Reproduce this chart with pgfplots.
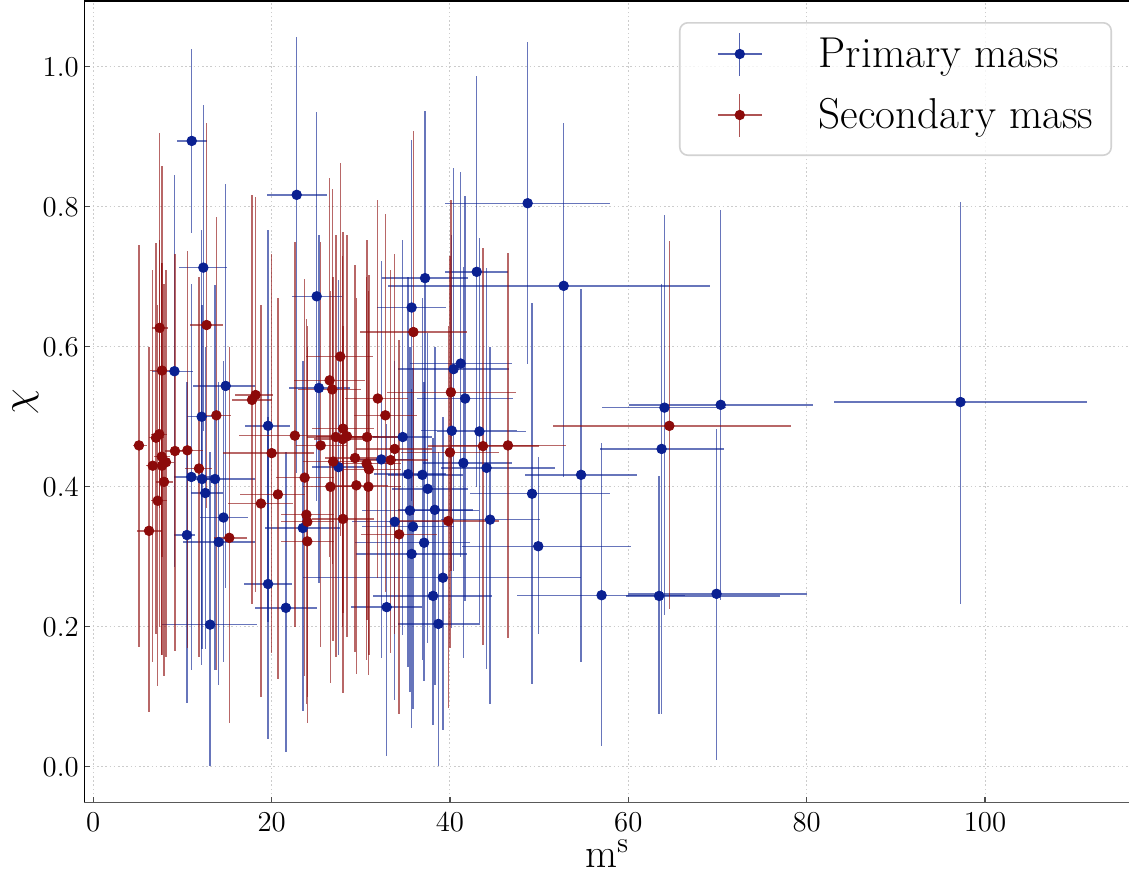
\documentclass[border=0pt]{standalone}
\usepackage{pgfplots}
\usepackage{pgfplotstable}
\pgfplotsset{compat=1.18}
\definecolor{bm}{RGB}{10,32,145}
\definecolor{rm}{RGB}{140,10,10}

\pgfplotstableread{
x y xl xh yl yh
11.04 0.894 9.35 12.72 0.763 1.025
12.34 0.713 9.64 15.03 0.48 0.946
22.81 0.817 19.45 26.18 0.42 1.043
25.05 0.672 22.25 27.86 0.38 0.935
37.2 0.698 32.34 42.05 0.42 0.937
43.0 0.707 39.44 46.54 0.40 0.987
48.71 0.805 39.44 57.95 0.576 1.035
52.75 0.687 33.0 69.16 0.414 0.92
64.05 0.513 57.1 71.0 0.217 0.788
63.73 0.454 56.86 70.68 0.075 0.69
70.36 0.517 60.08 80.7 0.238 0.796
97.25 0.521 83.1 111.4 0.233 0.807
54.7 0.417 48.4 61.0 0.15 0.683
57.0 0.245 47.5 66.4 0.03 0.462
63.45 0.244 59.7 77.0 0.075 0.415
69.89 0.247 60.0 80.0 0.01 0.483
35.7 0.656 31.8 39.6 0.38 0.896
25.3 0.541 21.9 28.8 0.262 0.76
41.2 0.576 35.5 47.0 0.30 0.85
40.4 0.568 34.2 46.65 0.28 0.855
41.7 0.526 36.3 47.1 0.237 0.815
34.7 0.471 31.4 37.95 0.188 0.753
40.2 0.480 36.8 47.5 0.198 0.76
43.3 0.479 38.5 48.5 0.202 0.755
32.3 0.439 28.8 36.0 0.155 0.722
27.5 0.428 24.5 31.0 0.159 0.696
41.5 0.434 37.0 47.0 0.156 0.714
44.1 0.427 39.0 51.8 0.14 0.712
35.3 0.418 31.5 39.5 0.143 0.70
36.9 0.417 33.0 41.5 0.152 0.67
37.5 0.397 33.5 42.0 0.177 0.62
49.2 0.390 42.2 57.9 0.118 0.662
49.9 0.315 41.4 60.3 0.19 0.443
35.5 0.366 30.1 43.2 0.107 0.60
38.3 0.367 34.2 42.6 0.117 0.60
44.5 0.353 39.0 50.1 0.09 0.60
33.8 0.350 29.0 38.8 0.095 0.58
35.85 0.343 30.1 40.4 0.082 0.57
37.1 0.320 29.35 42.2 0.123 0.55
35.7 0.304 29.5 41.9 0.056 0.54
39.2 0.270 23.5 54.7 0.052 0.50
38.1 0.244 31.4 44.7 0.06 0.47
23.5 0.341 19.3 27.7 0.079 0.58
9.1 0.565 6.55 11.2 0.285 0.845
14.85 0.544 11.2 18.1 0.255 0.833
12.15 0.500 10.55 13.8 0.145 0.767
19.6 0.487 17.0 22.1 0.207 0.767
11.0 0.414 9.0 13.5 0.138 0.69
12.2 0.411 10.5 14.0 0.168 0.66
13.65 0.411 11.8 18.1 0.138 0.688
12.56 0.391 11.0 14.5 0.168 0.60
14.6 0.356 12.0 17.4 0.149 0.58
10.5 0.331 9.0 11.4 0.091 0.55
14.06 0.321 10.1 18.1 0.117 0.55
19.6 0.261 16.9 22.3 0.04 0.50
21.6 0.227 18.1 25.1 0.021 0.45
13.1 0.203 7.67 18.4 0.001 0.45
32.9 0.228 28.9 36.9 0.015 0.49
38.7 0.204 34.2 43.3 0.0015 0.45
}\primtab

\pgfplotstableread{
x y xl xh yl yh
64.6 0.487 51.5 78.2 0.225 0.751
35.9 0.621 29.9 41.9 0.36 0.908
27.7 0.586 23.9 31.4 0.33 0.863
26.5 0.552 22.5 30.5 0.30 0.841
26.8 0.539 23.0 30.0 0.29 0.826
31.9 0.526 28.2 35.3 0.27 0.809
32.75 0.502 29.2 36.3 0.25 0.789
40.1 0.535 32.9 47.4 0.28 0.809
28.0 0.483 24.5 31.5 0.22 0.764
27.2 0.471 24.0 30.5 0.157 0.76
28.45 0.472 25.0 32.0 0.186 0.76
27.97 0.468 24.8 31.2 0.20 0.73
30.7 0.471 27.0 34.5 0.21 0.752
25.5 0.459 22.7 28.5 0.171 0.749
33.8 0.454 29.5 38.0 0.19 0.732
43.7 0.458 37.5 50.0 0.174 0.741
46.5 0.459 40.0 53.0 0.184 0.734
40.0 0.449 34.5 45.5 0.17 0.729
29.35 0.441 26.0 33.0 0.164 0.717
26.9 0.436 23.5 30.5 0.18 0.70
33.35 0.438 29.5 37.5 0.162 0.71
30.65 0.433 27.0 34.5 0.152 0.70
30.9 0.425 27.5 34.5 0.16 0.702
23.7 0.413 20.5 27.0 0.129 0.697
26.6 0.400 23.5 30.0 0.12 0.68
29.5 0.402 26.0 33.0 0.133 0.67
30.85 0.400 27.0 34.5 0.131 0.68
23.9 0.360 21.0 27.0 0.09 0.64
24.0 0.350 21.0 27.0 0.10 0.63
28.0 0.354 24.5 31.5 0.106 0.63
39.8 0.351 34.0 45.5 0.084 0.63
34.3 0.332 30.0 38.5 0.075 0.61
24.0 0.322 21.0 27.0 0.062 0.60
7.44 0.627 6.55 8.4 0.37 0.906
12.7 0.631 10.85 14.6 0.37 0.92
7.7 0.566 6.4 9.0 0.30 0.858
13.8 0.502 12.2 15.4 0.138 0.785
18.2 0.531 15.9 20.2 0.249 0.814
17.8 0.524 15.6 20.0 0.232 0.817
7.4 0.475 6.5 8.3 0.20 0.752
7.03 0.470 6.2 7.9 0.19 0.748
5.12 0.459 4.5 6.0 0.171 0.745
9.16 0.451 8.0 10.4 0.166 0.733
10.55 0.452 9.3 12.3 0.17 0.737
7.67 0.443 6.8 8.6 0.16 0.72
8.15 0.435 7.2 9.1 0.157 0.709
6.66 0.430 5.9 7.5 0.149 0.709
7.7 0.430 6.8 8.6 0.16 0.72
11.85 0.426 10.3 13.3 0.157 0.70
7.93 0.407 7.0 8.9 0.129 0.69
7.22 0.380 6.5 8.3 0.115 0.66
6.25 0.337 4.87 7.67 0.078 0.60
15.25 0.327 13.5 17.2 0.063 0.60
20.0 0.448 14.6 24.7 0.163 0.733
22.6 0.473 16.3 28.0 0.2 0.749
20.7 0.389 16.5 23.7 0.125 0.67
18.8 0.376 15.1 22.4 0.10 0.66
}\sectab

\begin{document}
\begin{tikzpicture}
\begin{axis}[
  name=ax,
  at={(42.15pt,38.65pt)}, anchor=south west,
  scale only axis, width=522.85pt, height=400.85pt,
  xmin=-1.009, xmax=116.26, ymin=-0.0514, ymax=1.0939,
  axis line style={draw=none},
  tick pos=left, tick align=inside,
  major tick length=3pt,
  tick style={black!70, line width=0.6pt},
  xtick={0,20,40,60,80,100},
  ytick={0,0.2,0.4,0.6,0.8,1.0},
  tick label style={font=\fontsize{14.5}{17}\selectfont},
  yticklabel style={/pgf/number format/fixed, /pgf/number format/fixed zerofill, /pgf/number format/precision=1, inner xsep=2.6pt},
  xticklabel style={inner ysep=2.5pt, yshift=-2.2pt},
  grid=major,
  grid style={gray!40, line width=0.5pt, dash pattern=on 0.8pt off 1.3pt},
  xlabel={$\mathrm{m}^{\mathrm{s}}$},
  ylabel={$\chi$},
  xlabel style={at={(axis description cs:0.5,0)}, anchor=base, yshift=-32.2pt, inner sep=0.2pt, font=\fontsize{20}{24}\selectfont},
  ylabel style={at={(axis description cs:-0.0562,0.5)}, anchor=center, inner sep=0.5pt, font=\fontsize{20}{24}\selectfont},
  legend cell align=left,
  legend style={at={(rel axis cs:0.9828,0.9738)}, anchor=north east,
    draw=gray!35, line width=0.8pt, rounded corners=4pt,
    fill=white, fill opacity=0.8, text opacity=1,
    inner xsep=4.5pt, inner ysep=2.6pt, row sep=0pt,
    font=\fontsize{21.6}{25}\selectfont,
    nodes={inner xsep=4.5pt, inner ysep=0pt}},
]
\addplot[only marks, mark=*, mark size=2.4pt, color=bm, mark options={draw=bm, fill=bm},
  legend image code/.code={
    \path[draw=none, fill=none] (0pt,-17.5pt) rectangle (60.5pt,13pt);
    \draw[bm, draw opacity=0.7, line width=0.7pt, rounded corners=0pt] (14.5pt,0pt) -- (36.5pt,0pt) (25.5pt,-10.75pt) -- (25.5pt,10.75pt);
    \fill[bm, fill opacity=1, draw=none] (25.5pt,0pt) circle (2.6pt);
  },
  error bars/.cd, x dir=both, x explicit, y dir=both, y explicit,
  error mark=none, error bar style={line width=0.7pt, draw opacity=0.62, color=bm}]
  table[x=x, y=y,
    x error plus expr=\thisrow{xh}-\thisrow{x}, x error minus expr=\thisrow{x}-\thisrow{xl},
    y error plus expr=\thisrow{yh}-\thisrow{y}, y error minus expr=\thisrow{y}-\thisrow{yl}] {\primtab};
\addlegendentry{Primary mass}
\addplot[only marks, mark=*, mark size=2.4pt, color=rm, mark options={draw=rm, fill=rm},
  legend image code/.code={
    \path[draw=none, fill=none] (0pt,-17.5pt) rectangle (60.5pt,13pt);
    \draw[rm, draw opacity=0.7, line width=0.7pt, rounded corners=0pt] (14.5pt,0pt) -- (36.5pt,0pt) (25.5pt,-10.75pt) -- (25.5pt,10.75pt);
    \fill[rm, fill opacity=1, draw=none] (25.5pt,0pt) circle (2.6pt);
  },
  error bars/.cd, x dir=both, x explicit, y dir=both, y explicit,
  error mark=none, error bar style={line width=0.7pt, draw opacity=0.62, color=rm}]
  table[x=x, y=y,
    x error plus expr=\thisrow{xh}-\thisrow{x}, x error minus expr=\thisrow{x}-\thisrow{xl},
    y error plus expr=\thisrow{yh}-\thisrow{y}, y error minus expr=\thisrow{y}-\thisrow{yl}] {\sectab};
\addlegendentry{Secondary mass}
\end{axis}
\draw[black, line width=0.7pt] (ax.south west) -- (ax.north west) -- (ax.north east);
\draw[black!65, line width=0.7pt] (ax.south west) -- (ax.south east);
\pgfresetboundingbox
\path[use as bounding box] (0,0) rectangle (564.5pt,440pt);
\end{tikzpicture}
\end{document}
